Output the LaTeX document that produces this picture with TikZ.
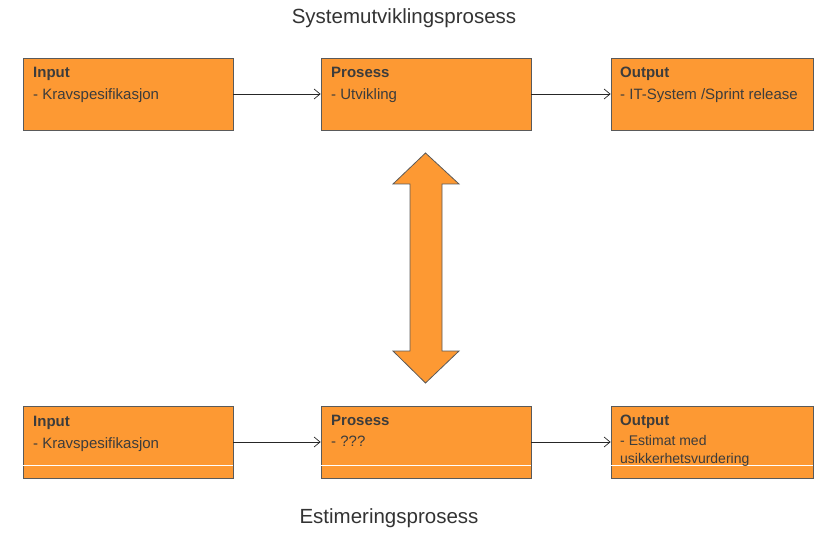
\documentclass[tikz,border=0pt]{standalone}
\usepackage{fontspec}
\setmainfont{Liberation Sans}
\usetikzlibrary{arrows.meta}
\definecolor{boxfill}{RGB}{253,153,51}
\definecolor{boxline}{RGB}{90,90,90}
\definecolor{boxtext}{RGB}{60,60,60}
\tikzset{
  stepbox/.style={draw=boxline, line width=0.8pt, fill=boxfill, rectangle,
    minimum height=72pt, inner sep=0pt},
  head/.style={anchor=base west, inner sep=0pt, text=boxtext,
    font=\fontsize{15}{18}\selectfont\bfseries},
  body/.style={anchor=base west, inner sep=0pt, text=boxtext,
    font=\fontsize{15}{18}\selectfont},
  smallbody/.style={body, font=\fontsize{14}{17}\selectfont},
  flow/.style={draw=black!85, line width=0.7pt,
    -{Straight Barb[length=6pt,width=10pt]}},
  caption/.style={inner sep=0pt, text=black!80, font=\fontsize{20.5}{24}\selectfont},
  divider/.style={draw=white, line width=1pt}
}
\begin{document}
\begin{tikzpicture}[x=1pt,y=-1pt]
\useasboundingbox (0,0) rectangle (821,534);

% process titles
\node[caption] (ttop) at (404,18) {Systemutviklingsprosess};
\node[caption] (tbot) at (389,518) {Estimeringsprosess};

% system development row
\node[stepbox, minimum width=210pt] (in1) at (128,94) {};
\node[stepbox, minimum width=210pt] (pr1) at (426,94) {};
\node[stepbox, minimum width=202pt] (out1) at (712,94) {};

\node[head] (in1h) at (33,78) {Input};
\node[body] (in1b) at (33,100) {- Kravspesifikasjon};
\node[head] (pr1h) at (331,78) {Prosess};
\node[body] (pr1b) at (331,100) {- Utvikling};
\node[head] (out1h) at (620,78) {Output};
\node[body] (out1b) at (620,100) {- IT-System /Sprint release};

\draw[flow] (in1.east) -- (pr1.west);
\draw[flow] (pr1.east) -- (out1.west);

% estimation row
\node[stepbox, minimum width=210pt] (in2) at (128,442) {};
\node[stepbox, minimum width=210pt] (pr2) at (426,442) {};
\node[stepbox, minimum width=202pt] (out2) at (712,442) {};

\draw[divider] (23.4,465) -- (232.6,465);
\draw[divider] (321.4,465) -- (530.6,465);
\draw[divider] (611.4,465) -- (812.6,465);

\node[head] (in2h) at (33,426) {Input};
\node[body] (in2b) at (33,448) {- Kravspesifikasjon};
\node[head] (pr2h) at (331,425) {Prosess};
\node[body] (pr2b) at (331,446) {- ???};
\node[head] (out2h) at (620,425) {Output};
\node[smallbody] (out2b) at (620,445) {- Estimat med};
\node[smallbody] (out2c) at (620,463) {usikkerhetsvurdering};

\draw[flow] (in2.east) -- (pr2.west);
\draw[flow] (pr2.east) -- (out2.west);

% two-headed block arrow linking the two processes
\draw[draw=boxline, line width=0.8pt, fill=boxfill, line join=miter]
  (425.5,153) -- (459,184) -- (442,184) -- (442,351) -- (459,351)
  -- (425.5,383) -- (393,351) -- (410,351) -- (410,184) -- (393,184) -- cycle;
\end{tikzpicture}
\end{document}
